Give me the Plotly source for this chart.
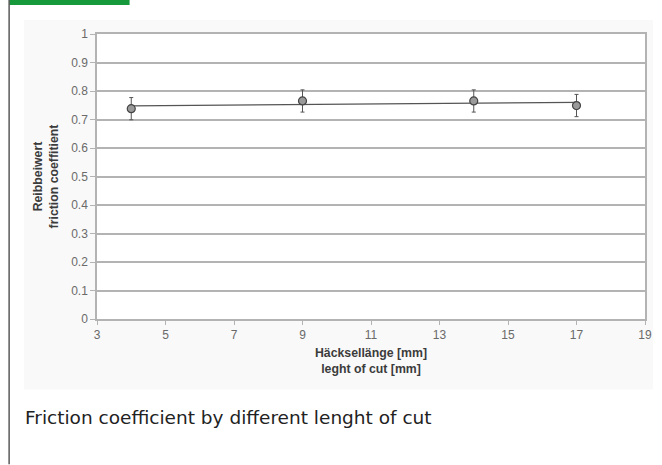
import numpy as np
import plotly.graph_objects as go

# Data
cut_length_mm = [4, 9, 14, 17]
friction_coeff = [0.738, 0.765, 0.765, 0.749]
friction_err = [0.039, 0.039, 0.039, 0.039]
x_ticks = [3, 5, 7, 9, 11, 13, 15, 17, 19]
y_ticks = [0, 0.1, 0.2, 0.3, 0.4, 0.5, 0.6, 0.7, 0.8, 0.9, 1]

W, H = 662, 465
L, R, T, B = 97, 10, 34, 145.5
pw, ph = W - L - R, H - T - B


def px(xp):
    return (xp - L) / pw


def py(yp):
    return (H - B - yp) / ph


# linear trendline through the points
coef = np.polyfit(cut_length_mm, friction_coeff, 1)
trend_x = [min(cut_length_mm), max(cut_length_mm)]
trend_y = list(np.polyval(coef, trend_x))

fig = go.Figure()
fig.add_trace(go.Scatter(
    x=trend_x, y=trend_y, mode="lines",
    line=dict(color="#555555", width=1.3), hoverinfo="skip", showlegend=False))
fig.add_trace(go.Scatter(
    x=cut_length_mm, y=friction_coeff, mode="markers",
    marker=dict(symbol="circle", size=8, color="#9a9a9a",
                line=dict(color="#444444", width=1.2)),
    error_y=dict(type="data", array=friction_err, visible=True,
                 color="#555555", thickness=1, width=2),
    showlegend=False))

grid = "#b3b3b3"
fig.update_xaxes(
    range=[3, 19], tickvals=x_ticks, ticktext=[str(v) for v in x_ticks],
    showgrid=False, zeroline=False,
    showline=True, linecolor=grid, linewidth=1.5, mirror=True,
    ticks="outside", ticklen=4, tickcolor=grid, tickwidth=1.2,
    tickfont=dict(family="Liberation Sans, Arial", size=12, color="#6a6a6a"),
    title=dict(text="<b>Häcksellänge [mm]</b><br><b>leght of cut [mm]</b>",
               font=dict(family="Liberation Sans, Arial", size=12.3, color="#3c3c3c"),
               standoff=7))
fig.update_yaxes(
    range=[0, 1], tickvals=y_ticks, ticktext=[f"{v:g}" for v in y_ticks],
    showgrid=True, gridcolor=grid, gridwidth=1.5, zeroline=False,
    showline=True, linecolor=grid, linewidth=1.5, mirror=True,
    ticks="outside", ticklen=5, tickcolor=grid, tickwidth=1.2,
    tickfont=dict(family="Liberation Sans, Arial", size=12, color="#6a6a6a"),
    title=dict(text="<b>Reibbeiwert</b><br><b>friction coeffitient</b>",
               font=dict(family="Liberation Sans, Arial", size=12.3, color="#3c3c3c"),
               standoff=10))

shapes = [
    # faint chart background
    dict(type="rect", xref="paper", yref="paper", layer="below",
         x0=px(23), x1=px(660), y0=py(390), y1=py(20),
         fillcolor="#f9f9f9", line=dict(width=0)),
    # white plot area
    dict(type="rect", xref="paper", yref="paper", layer="below",
         x0=0, x1=1, y0=0, y1=1,
         fillcolor="#ffffff", line=dict(width=0)),
    # green header bar
    dict(type="rect", xref="paper", yref="paper",
         x0=px(8), x1=px(130), y0=py(5), y1=py(-2),
         fillcolor="#16993b", line=dict(width=0)),
    # left border line
    dict(type="line", xref="paper", yref="paper",
         x0=px(8), x1=px(8), y0=py(0), y1=py(465),
         line=dict(color="#5a5a5a", width=1.5)),
]

fig.update_layout(
    width=W, height=H,
    margin=dict(l=L, r=R, t=T, b=B),
    paper_bgcolor="white", plot_bgcolor="white",
    shapes=shapes,
    annotations=[dict(
        text="Friction coefficient by different lenght of cut",
        xref="paper", yref="paper", x=px(22), y=py(418),
        xanchor="left", yanchor="middle", showarrow=False,
        font=dict(family="DejaVu Sans", size=18.5, color="#222222"))],
)

fig.write_html(
    "out.html",
    config={"displayModeBar": False},
    post_script="document.body.style.margin='0';document.body.style.overflow='hidden';",
)
